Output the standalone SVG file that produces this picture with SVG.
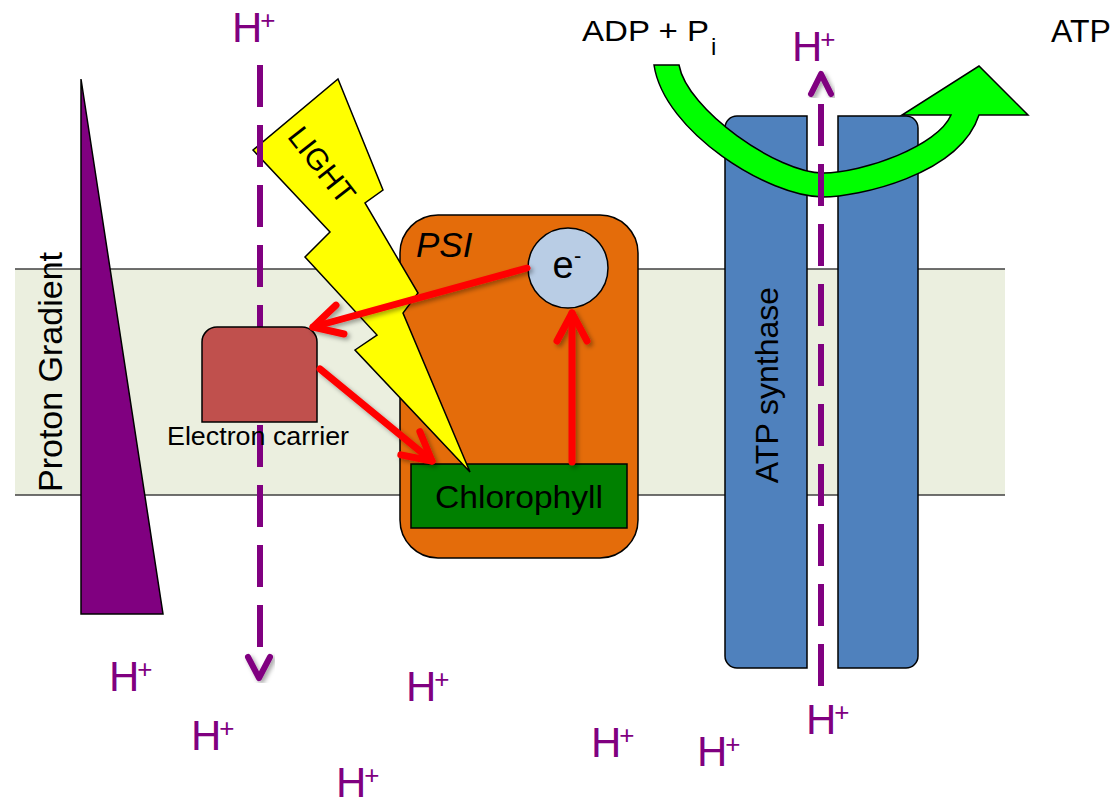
<svg xmlns="http://www.w3.org/2000/svg" width="1117" height="803" viewBox="0 0 1117 803">
<style>
text{font-family:"Liberation Sans",Arial,sans-serif;fill:#000}
.hp{font-size:42px;fill:#800080}
.sup{font-size:26px}
.edge{stroke:#000;stroke-width:1.5}
.mline{stroke:#404040;stroke-width:1.5;fill:none}
.dash{stroke:#800080;stroke-width:6;fill:none;stroke-dasharray:42 18}
.chev{stroke:#800080;stroke-width:6;fill:none;stroke-linecap:round;stroke-linejoin:round}
.red{stroke:#ff0000;stroke-width:7;fill:none;stroke-linecap:round}
</style>
<defs>
<filter id="sh" x="-20%" y="-20%" width="140%" height="140%">
<feDropShadow dx="2.5" dy="2.5" stdDeviation="2" flood-color="#000" flood-opacity="0.35"/>
</filter>
<marker id="ra" markerUnits="userSpaceOnUse" markerWidth="60" markerHeight="60" viewBox="-40 -30 60 60" refX="0" refY="0" orient="auto" overflow="visible">
<path d="M-28,-15 L0,0 L-28,15" fill="none" stroke="#ff0000" stroke-width="7" stroke-linecap="round" stroke-linejoin="round"/>
</marker>
</defs>

<g id="membrane">
<rect x="15" y="269" width="990" height="226" fill="#ebefdf"/>
<line class="mline" x1="15" y1="269" x2="1005" y2="269"/>
<line class="mline" x1="15" y1="495" x2="1005" y2="495"/>
</g>

<g id="proton-gradient">
<polygon class="edge" points="81,79 81,614 163,614" fill="#800080"/>
<text x="62" y="372" font-size="34" text-anchor="middle" transform="rotate(-90 62 372)">Proton Gradient</text>
</g>

<g id="atp-synthase">
<path class="edge" fill="#4f81bd" d="M737,116 H807 V668 H737 A12,12 0 0 1 725,656 V128 A12,12 0 0 1 737,116 Z"/>
<path class="edge" fill="#4f81bd" d="M838,116 H906 A12,12 0 0 1 918,128 V656 A12,12 0 0 1 906,668 H838 Z"/>
<text x="778" y="385" font-size="32" text-anchor="middle" transform="rotate(-90 778 385)">ATP synthase</text>
</g>

<g id="psi">
<rect class="edge" x="400" y="215" width="238" height="343" rx="38" fill="#e46c0a"/>
<text x="416" y="257" font-size="35" font-style="italic">PSI</text>
</g>

<g id="chlorophyll">
<rect class="edge" x="411" y="464" width="216" height="64" fill="#008000"/>
<text x="519" y="508" font-size="32" text-anchor="middle" textLength="168" lengthAdjust="spacingAndGlyphs">Chlorophyll</text>
</g>

<g id="electron">
<circle class="edge" cx="568" cy="268" r="40" fill="#b9cde5"/>
<text x="563" y="278" font-size="38" text-anchor="middle">e</text>
<text x="574" y="263" font-size="22">-</text>
</g>

<g id="light">
<polygon class="edge" fill="#ffff00" points="338,79 383,190 365,203 418,293 403,313 470,472 355,350 377,335 305,257 330,232 253,150"/>
<text x="322" y="165" font-size="30" text-anchor="middle" dominant-baseline="central" transform="rotate(52 322 165)">LIGHT</text>
</g>

<g id="connectors">
<path class="dash" d="M260,65 V647"/>
<path class="chev" filter="url(#sh)" d="M248,657 L259,678 L270,657"/>
</g>

<g id="electron-carrier">
<path class="edge" fill="#c0504d" d="M217,327 H302 A15,15 0 0 1 317,342 V422 H202 V342 A15,15 0 0 1 217,327 Z"/>
<text x="258" y="445" font-size="25" text-anchor="middle" textLength="182" lengthAdjust="spacingAndGlyphs">Electron carrier</text>
</g>

<g id="red-arrows" filter="url(#sh)">
<line class="red" x1="527" y1="268" x2="313" y2="327" marker-end="url(#ra)"/>
<line class="red" x1="320" y1="369" x2="432" y2="461" marker-end="url(#ra)"/>
<line class="red" x1="572" y1="462" x2="572" y2="313" marker-end="url(#ra)"/>
</g>

<g id="atp-cycle">
<path class="edge" fill="#00ff00" d="M654,65 L679,65 C687,110 778,173 823,173 C863,173 938,146 951,115 L902,115 L979,66 L1028,115 L979,115 C959,176 856,197 823,197 C769,197 664,132 654,65 Z"/>
</g>

<g id="proton-channel">
<path class="dash" d="M821,104 V688"/>
<path class="chev" filter="url(#sh)" d="M811,94 L821,74 L831,94"/>
</g>

<g id="labels">
<text x="582" y="41" font-size="30" textLength="127" lengthAdjust="spacingAndGlyphs">ADP + P</text>
<text x="711" y="55" font-size="24">i</text>
<text x="1051" y="42" font-size="32">ATP</text>
</g>

<g id="protons">
<text class="hp" x="232" y="42">H<tspan class="sup" dx="-2" dy="-13">+</tspan></text>
<text class="hp" x="792" y="61">H<tspan class="sup" dx="-2" dy="-13">+</tspan></text>
<text class="hp" x="109" y="691">H<tspan class="sup" dx="-2" dy="-13">+</tspan></text>
<text class="hp" x="191" y="750">H<tspan class="sup" dx="-2" dy="-13">+</tspan></text>
<text class="hp" x="336" y="797">H<tspan class="sup" dx="-2" dy="-13">+</tspan></text>
<text class="hp" x="406" y="701">H<tspan class="sup" dx="-2" dy="-13">+</tspan></text>
<text class="hp" x="591" y="757">H<tspan class="sup" dx="-2" dy="-13">+</tspan></text>
<text class="hp" x="697" y="766">H<tspan class="sup" dx="-2" dy="-13">+</tspan></text>
<text class="hp" x="806" y="734">H<tspan class="sup" dx="-2" dy="-13">+</tspan></text>
</g>
</svg>
